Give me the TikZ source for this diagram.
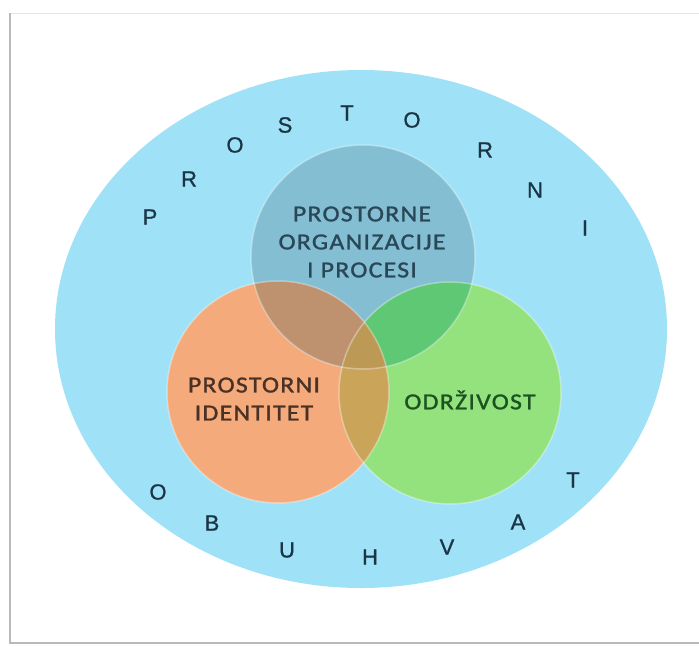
\documentclass[tikz,border=0pt]{standalone}
\usepackage{fontspec}
\setmainfont{Carlito}
\newfontfamily\letterfont[FakeBold=1]{Liberation Sans}
\newfontfamily\vennfont[FakeBold=1.2, LetterSpace=5]{Carlito}

\definecolor{outerblue}{HTML}{9FE2F7}
\definecolor{topfill}{HTML}{84BED3}
\definecolor{orangefill}{HTML}{F4AA7B}
\definecolor{greenfill}{HTML}{93E27E}
\definecolor{toporange}{HTML}{BE916F}
\definecolor{topgreen}{HTML}{5FC874}
\definecolor{orangegreen}{HTML}{C9A459}
\definecolor{allthree}{HTML}{BC9955}
\definecolor{letterc}{HTML}{1B3546}
\definecolor{toptext}{HTML}{2A4757}
\definecolor{orangetext}{HTML}{4A3126}
\definecolor{greentext}{HTML}{1C5220}

\begin{document}
\begin{tikzpicture}[x=1pt, y=-1pt,
    letter/.style={font=\letterfont\fontsize{22}{22}\selectfont, text=letterc, inner sep=0pt},
    venntext/.style={font=\vennfont\fontsize{23}{28}\selectfont, align=center, inner sep=0pt, xscale=1.12, transform shape},
    rim/.style={draw=white, draw opacity=0.35, line width=1.5pt}]
    \useasboundingbox (0,0) rectangle (699,646);
    % --- okvir ---
    \fill[white] (0,0) rectangle (699,646);
    \draw[gray!20, line width=1pt] (10,13) -- (699,13);
    \draw[gray!55, line width=2pt] (10,13) -- (10,643) -- (699,643);

    % --- prostorni obuhvat ---
    \fill[outerblue] (361,329) ellipse [x radius=306, y radius=259];

    % --- tri kruga ---
    \coordinate (topc) at (363,257);
    \coordinate (orc) at (278,392);
    \coordinate (grc) at (450,393);
    \fill[orangefill] (orc) circle [radius=111];
    \fill[greenfill] (grc) circle [radius=111];
    \fill[topfill] (topc) circle [radius=112];

    % presjeci
    \begin{scope}
        \clip (topc) circle [radius=112];
        \fill[toporange] (orc) circle [radius=111];
        \fill[topgreen] (grc) circle [radius=111];
    \end{scope}
    \begin{scope}
        \clip (orc) circle [radius=111];
        \fill[orangegreen] (grc) circle [radius=111];
        \clip (topc) circle [radius=112];
        \fill[allthree] (grc) circle [radius=111];
    \end{scope}
    \draw[rim] (topc) circle [radius=112];
    \draw[rim] (orc) circle [radius=111];
    \draw[rim] (grc) circle [radius=111];

    % --- tekst u krugovima ---
    \node[venntext, text=toptext] (procesi) at (362,242) {PROSTORNE\\ORGANIZACIJE\\I PROCESI};
    \node[venntext, text=orangetext] (identitet) at (254,399) {PROSTORNI\\IDENTITET};
    \node[venntext, text=greentext] (odrzivost) at (470,400) {ODRŽIVOST};

    % --- slova oko ruba ---
    \node[letter] (p1) at (150,217) {P};
    \node[letter] (p2) at (189,179) {R};
    \node[letter] (p3) at (235,145) {O};
    \node[letter] (p4) at (285,125) {S};
    \node[letter] (p5) at (347,113) {T};
    \node[letter] (p6) at (412,120) {O};
    \node[letter] (p7) at (485,150) {R};
    \node[letter] (p8) at (535,190) {N};
    \node[letter] (p9) at (585,228) {I};

    \node[letter] (o1) at (158,492) {O};
    \node[letter] (o2) at (212,523) {B};
    \node[letter] (o3) at (287,550) {U};
    \node[letter] (o4) at (370,557) {H};
    \node[letter] (o5) at (447,547) {V};
    \node[letter] (o6) at (518,522) {A};
    \node[letter] (o7) at (573,480) {T};
\end{tikzpicture}
\end{document}
